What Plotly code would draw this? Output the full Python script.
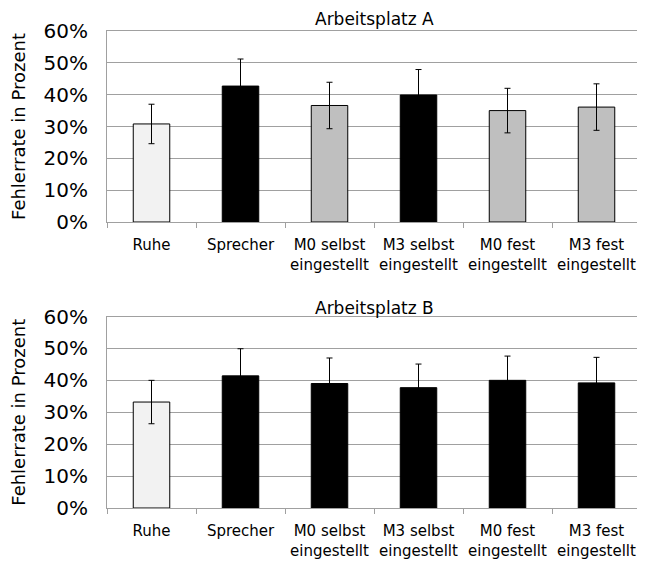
import plotly.graph_objects as go
from plotly.subplots import make_subplots

categories = ["Ruhe", "Sprecher", "M0 selbst<br>eingestellt", "M3 selbst<br>eingestellt",
              "M0 fest<br>eingestellt", "M3 fest<br>eingestellt"]
values_a = [30.8, 42.7, 36.6, 39.9, 35.0, 36.1]
errors_a = [6.2, 8.5, 7.3, 8.0, 7.0, 7.3]
colors_a = ["#f2f2f2", "#000000", "#bfbfbf", "#000000", "#bfbfbf", "#bfbfbf"]
values_b = [33.2, 41.4, 39.0, 37.7, 40.0, 39.2]
errors_b = [6.8, 8.5, 8.0, 7.4, 7.6, 8.0]
colors_b = ["#f2f2f2", "#000000", "#000000", "#000000", "#000000", "#000000"]
titles = ["Arbeitsplatz A", "Arbeitsplatz B"]
y_ticks = [0, 10, 20, 30, 40, 50, 60]
y_ticklabels = [f"{v}%" for v in y_ticks]

FONT = "DejaVu Sans"
fig = make_subplots(rows=2, cols=1, vertical_spacing=0.2)

for row, (vals, errs, cols) in enumerate([(values_a, errors_a, colors_a), (values_b, errors_b, colors_b)], start=1):
    fig.add_trace(go.Bar(
        x=categories, y=vals,
        marker=dict(color=cols, line=dict(color="#000000", width=1)),
        width=0.41,
        error_y=dict(type="data", array=errs, visible=True, color="#000000", thickness=1, width=3),
        showlegend=False,
    ), row=row, col=1)

# page body has an 8px margin; figure placed accordingly
W, H = 637, 553
top_dom = [(500 - 214) / 477, 1.0]
bot_dom = [0.0, (500 - 308.5) / 477]
fig.update_layout(
    width=W, height=H,
    margin=dict(l=99, r=4, t=23, b=53, autoexpand=False),
    paper_bgcolor="white", plot_bgcolor="white",
    font=dict(family=FONT, color="#000000"),
    yaxis=dict(domain=top_dom), yaxis2=dict(domain=bot_dom),
)
fig.update_yaxes(range=[0, 60], tickvals=y_ticks, ticktext=y_ticklabels,
                 showgrid=True, gridcolor="#a0a0a0", gridwidth=1,
                 showline=True, linecolor="#a0a0a0", mirror=True,
                 ticks="", ticklabelstandoff=14, automargin=False,
                 tickfont=dict(size=20, family=FONT), zeroline=False,
                 title=dict(text="Fehlerrate in Prozent", font=dict(size=18, family=FONT), standoff=14))
fig.update_xaxes(showline=True, linecolor="#a0a0a0", mirror=True,
                 ticks="outside", tickson="boundaries", ticklen=5, tickcolor="#a0a0a0",
                 ticklabelstandoff=9, automargin=False,
                 tickfont=dict(size=15, family=FONT))

for i, t in enumerate(titles):
    fig.add_annotation(text=t, x=0.5, xref="x domain" if i == 0 else "x2 domain",
                       y=1.0, yref="y domain" if i == 0 else "y2 domain",
                       yanchor="bottom", yshift=0 if i == 0 else -3,
                       showarrow=False, font=dict(size=17, family=FONT))

fig.write_html("out.html")
